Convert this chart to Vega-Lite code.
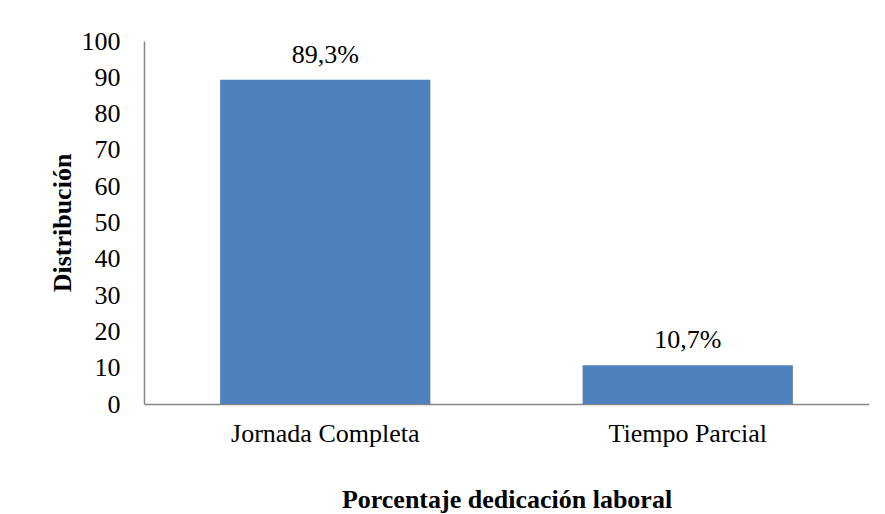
{
  "$schema": "https://vega.github.io/schema/vega-lite/v6.json",
  "autosize": "none",
  "width": 725,
  "height": 363,
  "padding": {"left": 144, "top": 41, "right": 16, "bottom": 110},
  "background": "white",
  "config": {
    "view": {"stroke": null},
    "font": "Liberation Serif"
  },
  "data": {
    "values": [
      {"categoria": "Jornada Completa", "valor": 89.3, "etiqueta": "89,3%"},
      {"categoria": "Tiempo Parcial", "valor": 10.7, "etiqueta": "10,7%"}
    ]
  },
  "encoding": {
    "x": {
      "field": "categoria",
      "type": "nominal",
      "sort": null,
      "scale": {"paddingInner": 0.42, "paddingOuter": 0.21},
      "axis": {
        "title": "Porcentaje dedicación laboral",
        "titleFont": "Liberation Serif",
        "titleFontSize": 26,
        "titleFontWeight": "bold",
        "titleColor": "black",
        "titlePadding": 40,
        "labelAngle": 0,
        "labelLimit": 0,
        "labelFont": "Liberation Serif",
        "labelFontSize": 26,
        "labelColor": "black",
        "labelPadding": 16,
        "ticks": false,
        "domainColor": "#868686",
        "domainWidth": 1.5,
        "grid": false
      }
    },
    "y": {
      "field": "valor",
      "type": "quantitative",
      "scale": {"domain": [0, 100], "nice": false},
      "axis": {
        "title": "Distribución",
        "titleFont": "Liberation Serif",
        "titleFontSize": 26,
        "titleFontWeight": "bold",
        "titleColor": "black",
        "titleX": -82,
        "titleY": 181.5,
        "titleBaseline": "middle",
        "values": [0, 10, 20, 30, 40, 50, 60, 70, 80, 90, 100],
        "labelFont": "Liberation Serif",
        "labelFontSize": 26,
        "labelColor": "black",
        "labelPadding": 24,
        "ticks": false,
        "domainColor": "#868686",
        "domainWidth": 1.5,
        "grid": false
      }
    }
  },
  "layer": [
    {"mark": {"type": "bar", "color": "#4F81BD"}},
    {
      "mark": {"type": "text", "baseline": "alphabetic", "dy": -17, "fontSize": 26, "font": "Liberation Serif", "color": "black"},
      "encoding": {"text": {"field": "etiqueta"}}
    }
  ]
}
